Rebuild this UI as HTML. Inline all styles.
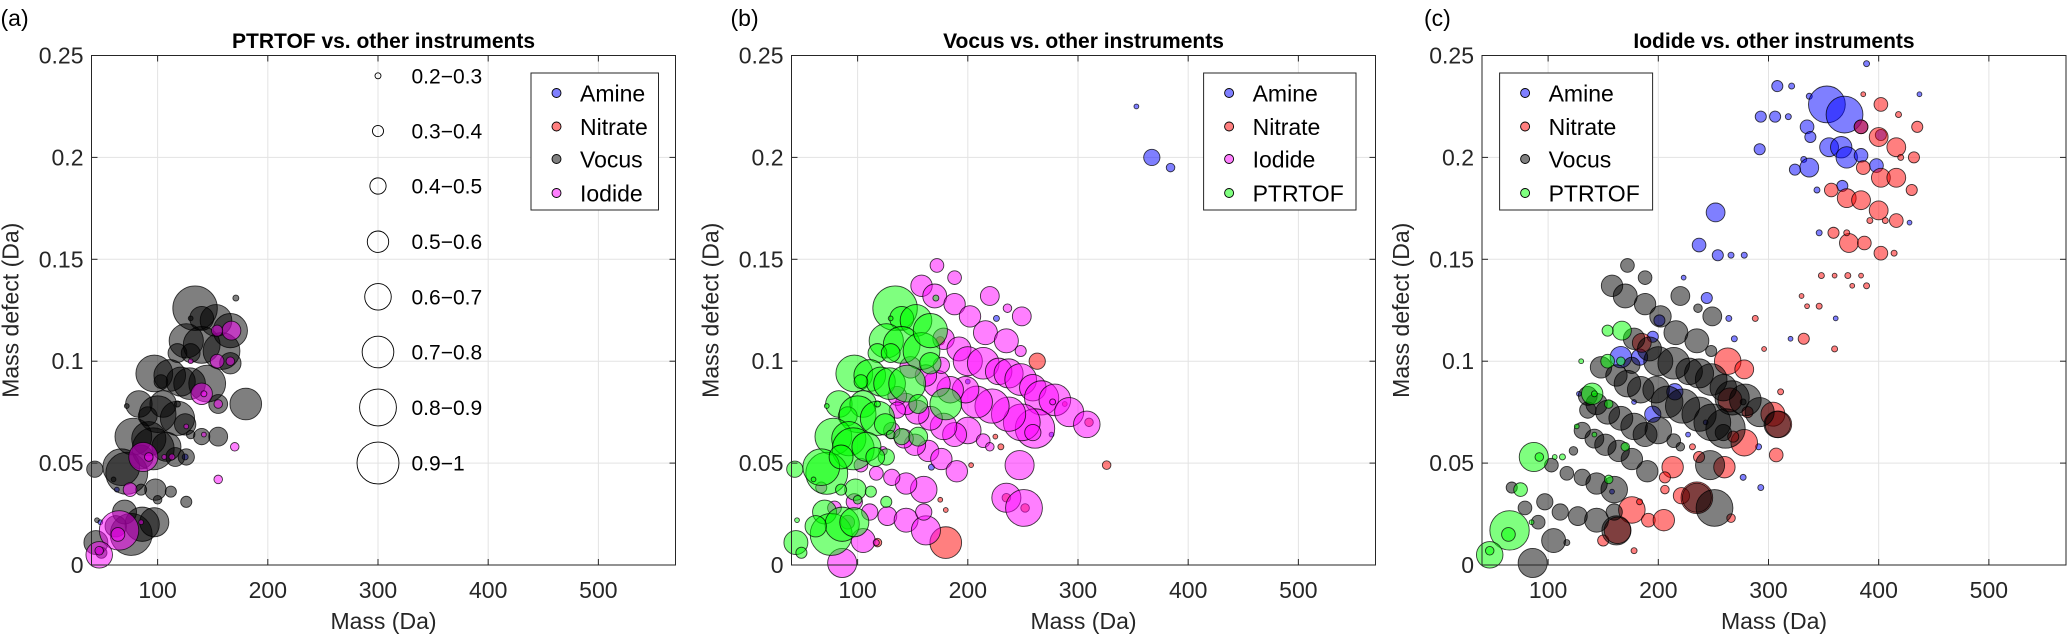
<!DOCTYPE html>
<html><head><meta charset="utf-8">
<style>
html,body{margin:0;padding:0;background:#fff;}
svg{display:block;font-family:"Liberation Sans",Arial,sans-serif;}
</style></head>
<body>
<svg id="chart" width="2067" height="636" viewBox="0 0 2067 636" xmlns="http://www.w3.org/2000/svg"></svg>
<script>
// ---- data: [mass, defect, similarity] ----
const ptrVocusPairs = [[134,0.126,1.0],[140,0.121,0.6],[153,0.120,0.75],[126,0.110,0.8],[140,0.108,0.85],[158,0.105,0.85],[118,0.104,0.5],[130,0.104,0.5],[166,0.115,0.8],[166,0.099,0.55],[97,0.094,0.85],[111,0.093,0.75],[121,0.090,0.7],[129,0.089,0.75],[145,0.089,0.85],[103,0.090,0.4],[83,0.079,0.65],[105,0.079,0.65],[180,0.079,0.75],[155,0.079,0.5],[91,0.073,0.5],[100,0.074,0.85],[118,0.072,0.8],[125,0.069,0.55],[78,0.063,0.85],[92,0.062,0.8],[96,0.057,0.95],[108,0.058,0.7],[72,0.045,0.95],[67,0.048,0.85],[85,0.053,0.6],[126,0.053,0.45],[116,0.053,0.5],[140,0.063,0.45],[155,0.063,0.5],[130,0.064,0.3],[43,0.047,0.45],[98,0.037,0.55],[112,0.036,0.35],[126,0.031,0.35],[100,0.032,0.3],[85,0.037,0.35],[70,0.026,0.6],[76,0.015,0.95],[86,0.020,0.8],[97,0.021,0.7],[62,0.019,0.55],[44,0.011,0.6],[49,0.006,0.35],[72,0.078,0.2],[130,0.121,0.2],[171,0.131,0.25],[60,0.042,0.2],[118,0.079,0.25],[45,0.022,0.2]];
const ptrIodidePairs = [[167,0.115,0.5],[154,0.115,0.35],[154,0.100,0.4],[166,0.100,0.3],[140,0.084,0.55],[142,0.084,0.25],[155,0.079,0.3],[170,0.058,0.3],[155,0.042,0.3],[87,0.053,0.7],[92,0.053,0.3],[113,0.053,0.25],[106,0.053,0.2],[75,0.037,0.4],[65,0.017,0.9],[64,0.015,0.4],[47,0.005,0.65],[142,0.064,0.2],[130,0.100,0.2],[126,0.068,0.2],[85,0.021,0.2],[47,0.007,0.3]];
const vocusIodidePairs = [[172,0.147,0.4],[188,0.141,0.4],[158,0.137,0.55],[170,0.132,0.6],[188,0.128,0.55],[220,0.132,0.5],[236,0.126,0.3],[249,0.122,0.5],[202,0.122,0.55],[216,0.114,0.6],[235,0.110,0.6],[248,0.105,0.35],[178,0.111,0.55],[192,0.106,0.6],[200,0.100,0.7],[214,0.099,0.75],[228,0.095,0.65],[237,0.094,0.7],[248,0.091,0.75],[259,0.087,0.65],[267,0.082,0.8],[279,0.081,0.75],[292,0.075,0.7],[308,0.069,0.65],[261,0.067,0.9],[249,0.070,0.85],[237,0.074,0.8],[222,0.078,0.8],[208,0.080,0.75],[198,0.086,0.65],[184,0.086,0.65],[172,0.089,0.65],[162,0.093,0.55],[148,0.097,0.55],[176,0.098,0.45],[200,0.066,0.65],[188,0.064,0.6],[178,0.068,0.65],[166,0.072,0.6],[154,0.075,0.6],[144,0.079,0.55],[136,0.083,0.5],[164,0.056,0.55],[152,0.059,0.55],[142,0.062,0.5],[131,0.066,0.45],[176,0.052,0.55],[190,0.046,0.55],[247,0.049,0.7],[214,0.061,0.4],[160,0.037,0.65],[144,0.040,0.55],[131,0.043,0.45],[117,0.045,0.4],[103,0.049,0.4],[97,0.031,0.45],[111,0.026,0.45],[127,0.024,0.5],[144,0.022,0.6],[162,0.017,0.7],[86,0.001,0.7],[105,0.012,0.6],[117,0.011,0.25],[235,0.033,0.7],[251,0.028,0.85],[79,0.028,0.4],[91,0.021,0.4],[220,0.058,0.3],[160,0.026,0.45],[67,0.038,0.35],[123,0.056,0.3],[136,0.076,0.45],[259,0.065,0.45],[277,0.080,0.25]];
const amineA = [[125,0.053,0.25],[63,0.037,0.2],[48,0.021,0.2]];
const nitrateA = [];
const amineB = [[353,0.225,0.2],[367,0.200,0.45],[384,0.195,0.3],[226,0.121,0.25],[167,0.048,0.25],[276,0.064,0.2],[200,0.090,0.2]];
const nitrateB = [[180,0.011,0.75],[263,0.100,0.45],[225,0.063,0.2],[230,0.058,0.25],[326,0.049,0.3],[175,0.032,0.2],[180,0.027,0.2],[118,0.011,0.3],[203,0.049,0.2],[288,0.079,0.2],[310,0.070,0.3],[235,0.033,0.3],[252,0.028,0.3],[175,0.110,0.3]];
const amineC = [[389,0.246,0.25],[308,0.235,0.35],[321,0.235,0.25],[337,0.230,0.25],[353,0.226,0.85],[369,0.221,0.85],[293,0.220,0.35],[306,0.220,0.35],[318,0.220,0.25],[335,0.215,0.4],[384,0.215,0.4],[338,0.210,0.35],[355,0.205,0.5],[366,0.205,0.55],[371,0.200,0.55],[384,0.201,0.4],[402,0.211,0.35],[292,0.204,0.35],[332,0.199,0.25],[337,0.195,0.5],[324,0.194,0.35],[398,0.196,0.4],[367,0.186,0.35],[344,0.184,0.25],[252,0.173,0.5],[237,0.157,0.4],[254,0.152,0.35],[266,0.152,0.25],[278,0.152,0.25],[346,0.163,0.25],[244,0.131,0.35],[223,0.141,0.2],[269,0.111,0.25],[264,0.121,0.25],[320,0.111,0.2],[361,0.121,0.2],[291,0.058,0.25],[277,0.043,0.25],[293,0.038,0.25],[428,0.168,0.2],[437,0.231,0.2],[166,0.102,0.55],[183,0.102,0.45],[201,0.120,0.35],[195,0.112,0.35],[215,0.085,0.45],[195,0.074,0.45],[158,0.036,0.2],[227,0.064,0.2],[243,0.070,0.2],[178,0.080,0.2],[128,0.084,0.2]];
const nitrateC = [[402,0.226,0.4],[386,0.231,0.2],[418,0.221,0.25],[435,0.215,0.35],[384,0.215,0.4],[400,0.210,0.5],[416,0.205,0.5],[432,0.200,0.35],[420,0.200,0.25],[386,0.195,0.4],[402,0.190,0.5],[416,0.190,0.5],[430,0.184,0.35],[357,0.184,0.4],[371,0.180,0.5],[384,0.179,0.5],[400,0.174,0.5],[416,0.169,0.4],[406,0.169,0.25],[392,0.169,0.25],[359,0.163,0.35],[373,0.158,0.5],[387,0.158,0.4],[402,0.153,0.4],[414,0.153,0.25],[371,0.163,0.25],[348,0.142,0.25],[360,0.142,0.2],[372,0.142,0.25],[384,0.142,0.2],[389,0.137,0.25],[376,0.137,0.2],[346,0.127,0.25],[335,0.127,0.2],[330,0.132,0.2],[332,0.111,0.35],[360,0.106,0.25],[296,0.106,0.2],[288,0.121,0.25],[311,0.085,0.25],[263,0.100,0.65],[278,0.096,0.5],[185,0.109,0.5],[278,0.060,0.65],[307,0.054,0.4],[213,0.048,0.55],[206,0.043,0.35],[206,0.037,0.3],[176,0.027,0.65],[191,0.022,0.4],[205,0.022,0.55],[150,0.012,0.35],[178,0.007,0.25],[221,0.034,0.45],[235,0.033,0.75],[260,0.048,0.55],[266,0.023,0.3],[163,0.017,0.65],[304,0.074,0.6],[309,0.069,0.65],[268,0.063,0.35],[265,0.081,0.6],[281,0.075,0.35],[237,0.053,0.35],[231,0.058,0.25],[183,0.031,0.25]];
const xTicks = [100,200,300,400,500];
const yTicks = [0,0.05,0.1,0.15,0.2,0.25];
const yTickLabels = ["0","0.05","0.1","0.15","0.2","0.25"];
const sizeBins = ["0.2\u22120.3","0.3\u22120.4","0.4\u22120.5","0.5\u22120.6","0.6\u22120.7","0.7\u22120.8","0.8\u22120.9","0.9\u22121"];
const sizeBinValues = [0.25,0.35,0.45,0.55,0.65,0.75,0.85,0.95];

const NS="http://www.w3.org/2000/svg";
const svg=document.getElementById('chart');
function mk(tag,attrs,parent){const e=document.createElementNS(NS,tag);for(const k in attrs)e.setAttribute(k,attrs[k]);(parent||svg).appendChild(e);return e;}
const COL={Amine:'#0000ff',Nitrate:'#ff0000',Vocus:'#000000',Iodide:'#ff00ff',PTRTOF:'#00ff00'};
const XMIN=40,XMAX=570,YMIN=0,YMAX=0.25,TOP=55.5,BOT=565,W=584;
function rOf(v){return 1.2*Math.max(2,2.5+(v-0.25)*21.4);}

function panel(key,L,title,series,legendX,legendW){
  const g=mk('g',{});
  
  
  const R=L+W;
  const px=m=>L+(m-XMIN)/(XMAX-XMIN)*W;
  const py=d=>BOT-(d-YMIN)/(YMAX-YMIN)*(BOT-TOP);
  const bg=mk('rect',{x:L,y:TOP,width:W,height:BOT-TOP,fill:'#fff'},g);
  
  
  xTicks.forEach(t=>{
    const gl=mk('line',{x1:px(t),x2:px(t),y1:TOP,y2:BOT,stroke:'#e3e3e3','stroke-width':1},g);
    
    
  });
  yTicks.forEach(t=>{
    const gl=mk('line',{x1:L,x2:R,y1:py(t),y2:py(t),stroke:'#e3e3e3','stroke-width':1},g);
    
    
  });
  series.forEach(s=>{
    const sg=mk('g',{},g);
    
    
    s.data.forEach(p=>{
      const c=mk('circle',{cx:px(p[0]),cy:py(p[1]),r:rOf(p[2]),fill:COL[s.name],'fill-opacity':0.5,stroke:'#000','stroke-opacity':0.75,'stroke-width':0.9},sg);
      
      
    });
  });
  const box=mk('rect',{x:L,y:TOP,width:W,height:BOT-TOP,fill:'none',stroke:'#262626','stroke-width':1},g);
  
  
  xTicks.forEach(t=>{
    mk('line',{x1:px(t),x2:px(t),y1:BOT,y2:BOT-6,stroke:'#262626'},g);
    mk('line',{x1:px(t),x2:px(t),y1:TOP,y2:TOP+6,stroke:'#262626'},g);
    const tx=mk('text',{x:px(t),y:598,'font-size':23,'text-anchor':'middle',fill:'#262626'},g);
    tx.textContent=t;
    
    
  });
  yTicks.forEach((t,i)=>{
    mk('line',{x1:L,x2:L+6,y1:py(t),y2:py(t),stroke:'#262626'},g);
    mk('line',{x1:R,x2:R-6,y1:py(t),y2:py(t),stroke:'#262626'},g);
    const tx=mk('text',{x:L-8,y:py(t)+8,'font-size':23,'text-anchor':'end',fill:'#262626'},g);
    tx.textContent=yTickLabels[i];
    
    
  });
  const xl=mk('text',{x:(L+R)/2,y:629,'font-size':23,'text-anchor':'middle',fill:'#262626'},g);
  xl.textContent='Mass (Da)';
  
  
  const yx=L-73;
  const yl=mk('text',{x:yx,y:(TOP+BOT)/2,'font-size':23,'text-anchor':'middle',fill:'#262626',transform:`rotate(-90 ${yx} ${(TOP+BOT)/2})`},g);
  yl.textContent='Mass defect (Da)';
  
  
  const tt=mk('text',{x:(L+R)/2,y:48,'font-size':21,'font-weight':'bold','text-anchor':'middle',fill:'#000'},g);
  tt.textContent=title;
  
  
  const pl=mk('text',{x:L-91+ (key==='a'?0:(key==='b'?30:33)),y:26,'font-size':23,fill:'#000'},g);
  pl.textContent='('+key+')';
  
  
  const lg=mk('g',{},g);
  
  
  mk('rect',{x:legendX,y:73,width:legendW,height:137,fill:'#fff',stroke:'#262626','stroke-width':1},lg);
  series.forEach((s,i)=>{
    const yy=[93,126.5,159,193][i];
    const e=mk('g',{},lg);
    
    
    mk('circle',{cx:legendX+25.5,cy:yy,r:4.5,fill:COL[s.name],'fill-opacity':0.5,stroke:'#000','stroke-width':0.9},e);
    const t=mk('text',{x:legendX+49,y:yy+8.5,'font-size':23,fill:'#000'},e);
    t.textContent=s.name;
  });
  return {px,py};
}

const pa=panel('a',91.5,'PTRTOF vs. other instruments',[
  {name:'Amine',data:amineA},{name:'Nitrate',data:nitrateA},{name:'Vocus',data:ptrVocusPairs},{name:'Iodide',data:ptrIodidePairs}],531,127.5);
panel('b',791.5,'Vocus vs. other instruments',[
  {name:'Amine',data:amineB},{name:'Nitrate',data:nitrateB},{name:'Iodide',data:vocusIodidePairs},{name:'PTRTOF',data:ptrVocusPairs}],1203.6,152.4);
panel('c',1482,'Iodide vs. other instruments',[
  {name:'Amine',data:amineC},{name:'Nitrate',data:nitrateC},{name:'Vocus',data:vocusIodidePairs},{name:'PTRTOF',data:ptrIodidePairs}],1499.6,153);

const sl=mk('g',{});


const sizeY=[75.8,131,186,241.7,296.8,352,407.5,463];
sizeBins.forEach((lab,i)=>{
  const e=mk('g',{},sl);
  
  
  mk('circle',{cx:pa.px(300),cy:sizeY[i],r:rOf(sizeBinValues[i]),fill:'none',stroke:'#000','stroke-width':0.9},e);
  const t=mk('text',{x:411.5,y:sizeY[i]+7.5,'font-size':21,fill:'#000'},e);
  t.textContent=lab;
});
</script>
</body></html>
